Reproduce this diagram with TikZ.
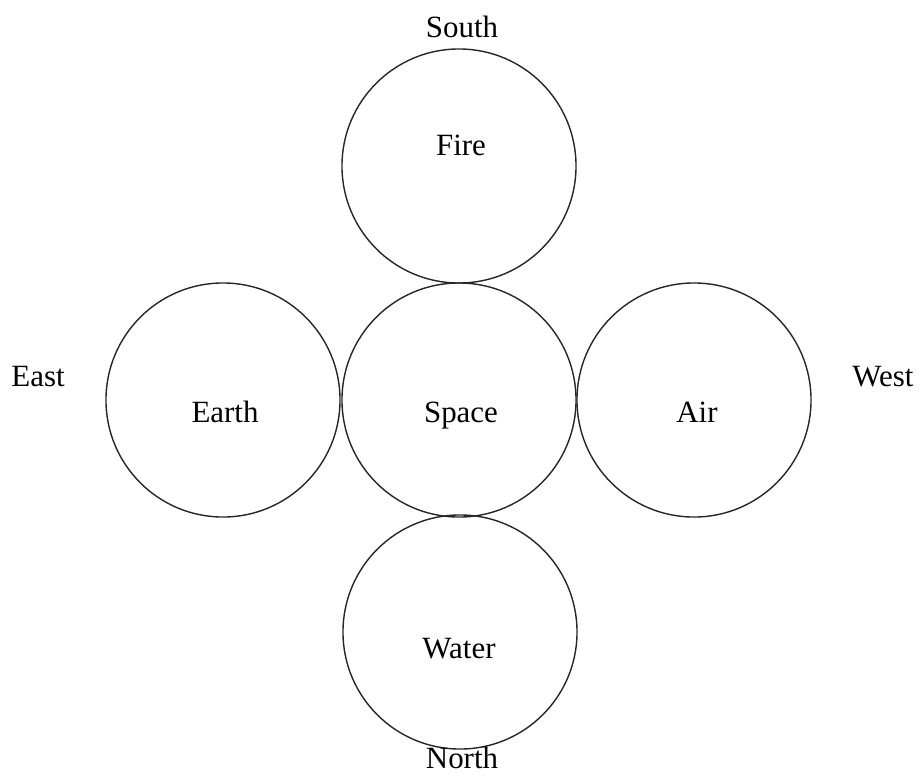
\documentclass[tikz,border=0pt]{standalone}
\usepackage{fontspec}
\setmainfont{Liberation Serif}
\usepackage{tikz}
\tikzset{
  elem/.style={circle,draw=black!85,line width=1pt,minimum size=5.85cm,inner sep=0pt},
  elemtxt/.style={font=\fontsize{22}{26}\selectfont,inner sep=0pt,anchor=base},
  dirtxt/.style={font=\fontsize{22}{26}\selectfont,inner sep=0pt,anchor=base}
}

\begin{document}
\begin{tikzpicture}[x=0.025cm,y=-0.025cm]
  \useasboundingbox (0,0) rectangle (920,777);

  % the five circles
  \node[elem] (fire)  at (459,166) {};
  \node[elem] (earth) at (223,400) {};
  \node[elem] (space) at (459,400) {};
  \node[elem] (air)   at (694,400) {};
  \node[elem] (water) at (460,632) {};

  % names of the elements
  \node[elemtxt] (firetxt)  at (461,155) {Fire};
  \node[elemtxt] (earthtxt) at (225,422) {Earth};
  \node[elemtxt] (spacetxt) at (461,422) {Space};
  \node[elemtxt] (airtxt)   at (697,422) {Air};
  \node[elemtxt] (watertxt) at (459,658) {Water};

  % directions
  \node[dirtxt] (south) at (462,37)  {South};
  \node[dirtxt] (east)  at (38,386)  {East};
  \node[dirtxt] (west)  at (883,386) {West};
  \node[dirtxt] (north) at (462,768) {North};
\end{tikzpicture}
\end{document}
